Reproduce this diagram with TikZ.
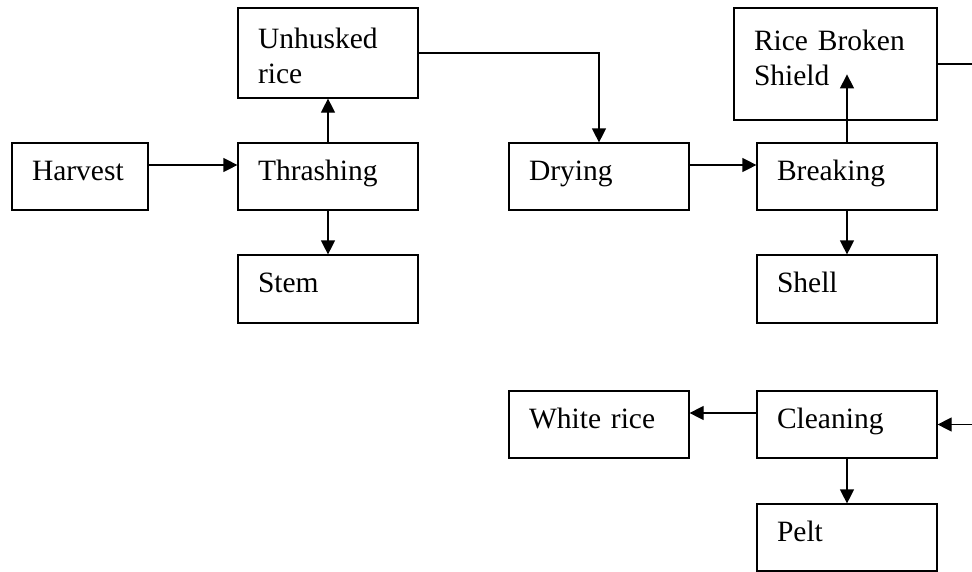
\documentclass[tikz,border=0pt]{standalone}
\usepackage{fontspec}
\setmainfont{Liberation Serif}
\usepackage{tikz}
\usetikzlibrary{calc, arrows.meta}

\begin{document}
\begin{tikzpicture}[x=1pt, y=-1pt,
  stage/.style={draw, line width=1.2pt, align=left, inner xsep=20pt, inner ysep=0pt,
    font=\fontsize{29.5}{35}\selectfont},
  oneline/.style={text height=20pt, text depth=13pt},
  flow/.style={line width=1.2pt, -{Triangle[length=14pt, width=14pt]}}]
  % Cadre de l'image
  \useasboundingbox (0,0) rectangle (972,571);
  \clip (0,0) rectangle (972,571);
  % Ligne du haut
  \node[stage, oneline, minimum width=136pt, minimum height=67pt, text width=96pt] (harvest) at (80,176.5) {Harvest};
  \node[stage, oneline, minimum width=180pt, minimum height=67pt, text width=140pt] (thrashing) at (328,176.5) {Thrashing};
  \node[stage, minimum width=180pt, minimum height=90pt, text width=140pt] (unhusked) at (328,53) {\rule{0pt}{27pt}Unhusked\\rice};
  \node[stage, oneline, minimum width=180pt, minimum height=68pt, text width=140pt] (stem) at (328,289) {Stem};
  \node[stage, oneline, minimum width=180pt, minimum height=67pt, text width=140pt] (drying) at (599,176.5) {Drying};
  \node[stage, minimum width=203pt, minimum height=112pt, text width=163pt] (broken) at (835.5,64) {Rice Broken\\Shield\rule[-12pt]{0pt}{12pt}};
  \node[stage, oneline, minimum width=180pt, minimum height=67pt, text width=140pt] (breaking) at (847,176.5) {Breaking};
  \node[stage, oneline, minimum width=180pt, minimum height=68pt, text width=140pt] (shell) at (847,289) {Shell};
  % Ligne du bas
  \node[stage, oneline, minimum width=180pt, minimum height=67pt, text width=140pt] (whiterice) at (599,424.5) {White rice};
  \node[stage, oneline, minimum width=180pt, minimum height=67pt, text width=140pt] (cleaning) at (847,424.5) {Cleaning};
  \node[stage, oneline, minimum width=180pt, minimum height=67pt, text width=140pt] (pelt) at (847,537.5) {Pelt};
  % Fleches
  \draw[flow] ([yshift=11.5pt]harvest.east) -- ([yshift=11.5pt]thrashing.west);
  \draw[flow] (thrashing.north) -- (unhusked.south);
  \draw[flow] (thrashing.south) -- (stem.north);
  \draw[flow] (unhusked.east) -| (drying.north);
  \draw[flow] ([yshift=11.5pt]drying.east) -- ([yshift=11.5pt]breaking.west);
  \draw[flow] (breaking.north) -- ++(0,-68);
  \draw[flow] (breaking.south) -- (shell.north);
  % Retour par la droite (hors cadre)
  \draw[flow] (broken.east) -- ++(60,0) |- (cleaning.east);
  \draw[flow] ([yshift=11.5pt]cleaning.west) -- ([yshift=11.5pt]whiterice.east);
  \draw[flow] (cleaning.south) -- (pelt.north);
\end{tikzpicture}
\end{document}
